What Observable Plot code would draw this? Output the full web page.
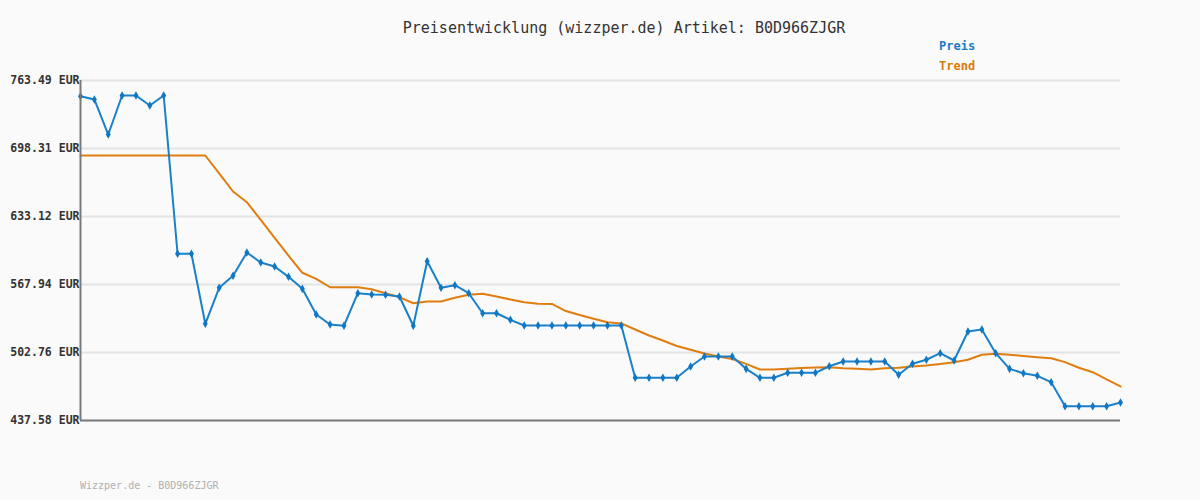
<!DOCTYPE html>
<html>
<head>
<meta charset="utf-8">
<script src="https://cdn.jsdelivr.net/npm/d3@7"></script>
<script src="https://cdn.jsdelivr.net/npm/@observablehq/plot@0.6"></script>
<style>
  html, body { margin: 0; padding: 0; background: #fafafa; }
  #wrap { position: relative; width: 1200px; height: 500px; background: #fafafa; font-family: "DejaVu Sans Mono", monospace; }
  #title { position: absolute; top: 19px; left: 0; width: 1248px; text-align: center; font-size: 15px; color: #333; }
  .leg { position: absolute; left: 939px; font-size: 12px; font-weight: bold; }
  #footer { position: absolute; left: 80px; top: 480px; font-size: 10px; color: #b0b0b0; }
</style>
</head>
<body>
<div id="wrap">
  <div id="chart"></div>
  <div id="title">Preisentwicklung (wizzper.de) Artikel: B0D966ZJGR</div>
  <div class="leg" style="top:39px;color:#1a7cc4">Preis</div>
  <div class="leg" style="top:59px;color:#d97b0c">Trend</div>
  <div id="footer">Wizzper.de - B0D966ZJGR</div>
</div>
<script>
const priceValues = [
  748.4, 745.3, 711.7, 749.1, 749.1, 739.5, 749.1, 597.4, 597.4, 530.3,
  564.8, 576.3, 598.6, 589.0, 585.2, 575.3, 563.8, 539.2, 529.6, 528.4,
  559.6, 558.4, 558.1, 556.4, 528.4, 590.3, 564.8, 567.3, 559.6, 540.4,
  540.4, 534.1, 528.6, 528.6, 528.6, 528.6, 528.6, 528.6, 528.6, 528.6,
  478.5, 478.5, 478.5, 478.5, 489.3, 498.9, 498.9, 498.9, 487.1, 478.5,
  478.5, 483.3, 483.3, 483.3, 489.6, 494.1, 494.1, 494.1, 494.1, 481.4,
  491.9, 495.8, 502.1, 495.1, 522.9, 524.8, 502.1, 487.1, 482.9, 480.4,
  474.3, 451.3, 451.3, 451.3, 451.3, 454.8
];
const trendValues = [
  691.6, 691.6, 691.6, 691.6, 691.6, 691.6, 691.6, 691.6, 691.6, 691.6,
  674.4, 657.1, 646.8, 629.8, 612.7, 595.7, 579.2, 573.4, 565.3, 565.3,
  565.3, 563.4, 559.6, 555.8, 550.0, 551.7, 551.7, 555.2, 558.1, 559.0,
  556.4, 553.6, 551.0, 549.4, 549.3, 542.5, 538.7, 535.1, 531.8, 530.6,
  524.8, 519.1, 514.3, 509.0, 505.4, 501.8, 498.9, 496.5, 491.9, 486.5,
  486.5, 487.1, 487.9, 488.4, 488.7, 487.7, 487.1, 486.5, 487.7, 488.1,
  489.3, 490.3, 491.7, 493.5, 495.8, 500.6, 501.5, 500.6, 499.4, 498.3,
  497.3, 493.5, 488.1, 483.9, 476.9, 470.2
];
const yTicks = [437.58, 502.76, 567.94, 633.12, 698.31, 763.49];

const price = priceValues.map((v, i) => ({i, v}));
const trend = trendValues.map((v, i) => ({i, v}));

const chart = Plot.plot({
  width: 1200,
  height: 500,
  marginLeft: 80,
  marginRight: 80,
  marginTop: 80,
  marginBottom: 80,
  style: { background: "#fafafa", fontFamily: "DejaVu Sans Mono, monospace" },
  x: { domain: [0, priceValues.length - 1], axis: null },
  y: { domain: [yTicks[0], yTicks[yTicks.length - 1]], axis: null },
  marks: [
    Plot.gridY(yTicks, { stroke: "#e3e3e3", strokeOpacity: 1, strokeWidth: 2 }),
    Plot.axisY(yTicks, {
      tickSize: 0, tickPadding: 1, label: null,
      tickFormat: d => d.toFixed(2) + " EUR",
      fontSize: 11.5, fontWeight: "bold", fill: "#333"
    }),
    Plot.line(trend, { x: "i", y: "v", stroke: "#e07d10", strokeWidth: 2 }),
    Plot.line(price, { x: "i", y: "v", stroke: "#1a80c8", strokeWidth: 2 }),
    Plot.dot(price, { x: "i", y: "v", symbol: "diamond", r: 2.6, fill: "#1177c2" }),
    Plot.ruleX([0], { stroke: "#7a7a7a", strokeWidth: 2 }),
    Plot.ruleY([yTicks[0]], { stroke: "#7a7a7a", strokeWidth: 2 })
  ]
});
document.getElementById("chart").appendChild(chart);
</script>
</body>
</html>
